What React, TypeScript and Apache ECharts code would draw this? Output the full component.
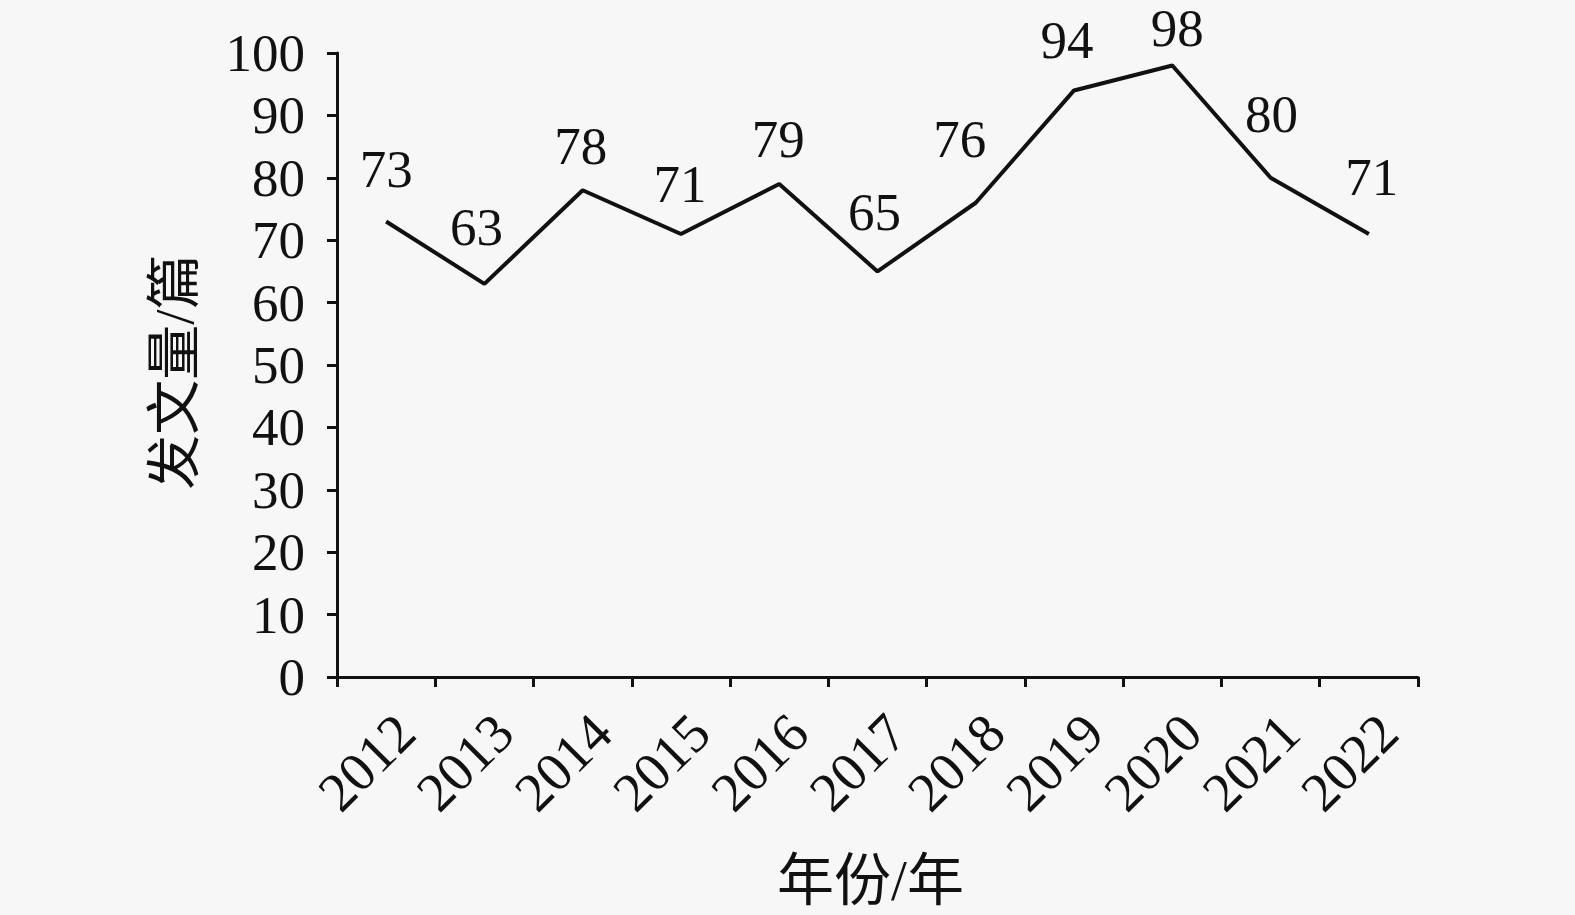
import React, { useEffect, useRef } from "react";
import * as echarts from "echarts";

const years = ["2012", "2013", "2014", "2015", "2016", "2017", "2018", "2019", "2020", "2021", "2022"];
const counts = [73, 63, 78, 71, 79, 65, 76, 94, 98, 80, 71];
const yTicks = { min: 0, max: 100, interval: 10 };
const xName = "年份/年";
const yName = "发文量/篇";

// label nudges (px) relative to the default "top" placement, matching the reference's hand-placed labels
const labelNudge: [number, number][] = [
  [0, -5], [-8, -10], [-2, 3], [-1, -3], [-1, 2], [-3, -12], [-16, -17], [-7, -3], [5, 10], [1, -17], [3, -10],
];

const FONT = "'Liberation Serif', 'Times New Roman', 'Noto Sans CJK SC', serif";
const INK = "#111111";
const FS = 53;

export default function App() {
  const ref = useRef<HTMLDivElement>(null);
  useEffect(() => {
    if (!ref.current) return;
    const chart = echarts.init(ref.current, undefined, { renderer: "svg" });
    const seriesData = counts.map((v, i) => ({
      value: v,
      label: { offset: labelNudge[i] },
    }));
    chart.setOption({
      animation: false,
      backgroundColor: "#f7f7f7",
      textStyle: { fontFamily: FONT, color: INK },
      grid: { left: 337, right: 157, top: 53, bottom: 238, containLabel: false, outerBoundsMode: "none" },
      xAxis: {
        type: "category",
        data: years,
        boundaryGap: true,
        name: xName,
        nameLocation: "middle",
        nameGap: 175,
        nameTextStyle: { fontFamily: FONT, fontSize: 57, color: INK, padding: [0, 14, 0, 0] },
        axisLine: { lineStyle: { color: INK, width: 3 } },
        axisTick: { show: true, length: 10, lineStyle: { color: INK, width: 3 } },
        axisLabel: {
          rotate: 45,
          margin: 27,
          verticalAlign: "top",
          fontSize: 55,
          fontFamily: FONT,
          color: INK,
          interval: 0,
        },
        splitLine: { show: false },
      },
      yAxis: {
        type: "value",
        min: yTicks.min,
        max: yTicks.max,
        interval: yTicks.interval,
        name: yName,
        nameLocation: "middle",
        nameGap: 135,
        nameRotate: 90,
        nameTextStyle: { fontFamily: FONT, fontSize: 55, color: INK, padding: [0, 14, 0, 0] },
        axisLine: { show: true, lineStyle: { color: INK, width: 3 } },
        axisTick: { show: true, length: 10, lineStyle: { color: INK, width: 3 } },
        axisLabel: { margin: 32, fontSize: FS, fontFamily: FONT, color: INK },
        splitLine: { show: false },
      },
      series: [
        {
          type: "line",
          data: seriesData,
          symbol: "circle",
          symbolSize: 1,
          showSymbol: true,
          itemStyle: { color: "rgba(0,0,0,0)" },
          lineStyle: { color: INK, width: 4 },
          label: {
            show: true,
            position: "top",
            distance: 20,
            fontSize: FS,
            fontFamily: FONT,
            color: INK,
          },
        },
      ],
    });
    return () => chart.dispose();
  }, []);
  return <div ref={ref} style={{ position: "fixed", left: 0, top: 0, width: 1575, height: 915 }} />;
}
